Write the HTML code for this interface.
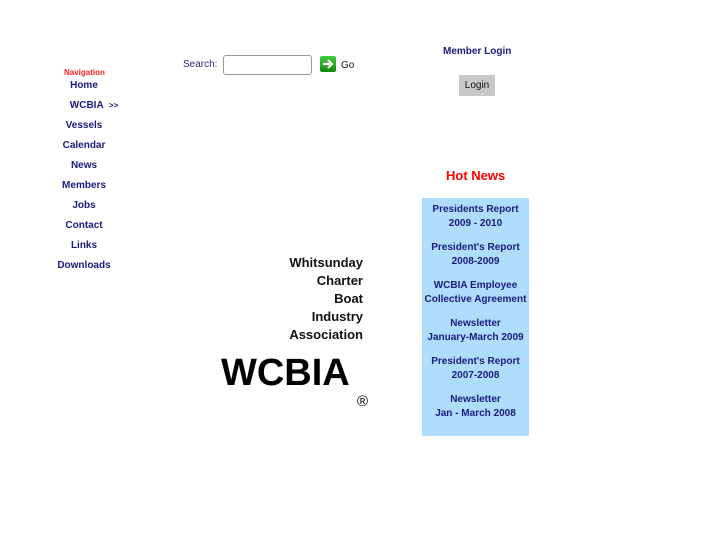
<!DOCTYPE html>
<html><head><meta charset="utf-8"><style>
body{margin:0;width:727px;height:545px;background:#fff;position:relative;overflow:hidden;font-family:"Liberation Sans",sans-serif}
.a{position:absolute;white-space:nowrap}
.nav{position:absolute;left:40px;width:88px;text-align:center;font-size:10px;font-weight:bold;color:#1a1a80}
.box{position:absolute;left:422px;top:198px;width:107px;height:238px;background:#aeddfd}
.box div{text-align:center;font-size:10px;font-weight:bold;color:#1a1a80;line-height:14px;height:38px}
.t{position:absolute;right:364px;font-size:13px;font-weight:bold;color:#111;text-align:right}
</style></head><body>
<div class="a" style="left:64px;top:68px;font-size:8px;font-weight:bold;color:#f22">Navigation</div>
<div class="nav" style="top:80px">Home</div>
<div class="nav" style="top:100px;left:50px">WCBIA &nbsp;<span style="font-size:8px">&gt;&gt;</span></div>
<div class="nav" style="top:120px">Vessels</div>
<div class="nav" style="top:140px">Calendar</div>
<div class="nav" style="top:160px">News</div>
<div class="nav" style="top:180px">Members</div>
<div class="nav" style="top:200px">Jobs</div>
<div class="nav" style="top:220px">Contact</div>
<div class="nav" style="top:240px">Links</div>
<div class="nav" style="top:260px">Downloads</div>

<div class="a" style="left:183px;top:59px;font-size:10px;color:#2a2a80">Search:</div>
<div class="a" style="left:223px;top:55px;width:87px;height:18px;border:1px solid #999;border-radius:3px;background:#fff"></div>
<div class="a" style="left:320px;top:56px;width:16px;height:16px;background:linear-gradient(#4c4,#181);border-radius:2px"><svg width="16" height="16"><path d="M3 8h8M8 4l4 4-4 4" stroke="#fff" stroke-width="2.2" fill="none"/></svg></div>
<div class="a" style="left:341px;top:60px;font-size:10px;color:#111">Go</div>

<div class="a" style="left:443px;top:46px;font-size:10px;font-weight:bold;color:#1a1a80">Member Login</div>
<div class="a" style="left:459px;top:75px;width:36px;height:21px;background:#c8c8c8;font-size:10px;text-align:center;line-height:21px;color:#111">Login</div>

<div class="a" style="left:446px;top:168px;font-size:13px;font-weight:bold;color:#f00">Hot News</div>
<div class="box"><div style="margin-top:5px">Presidents Report<br>2009 - 2010</div><div>President's Report<br>2008-2009</div><div>WCBIA Employee<br>Collective Agreement</div><div>Newsletter<br>January-March 2009</div><div>President's Report<br>2007-2008</div><div>Newsletter<br>Jan - March 2008</div></div>

<div class="t" style="top:255px">Whitsunday</div>
<div class="t" style="top:273px">Charter</div>
<div class="t" style="top:291px">Boat</div>
<div class="t" style="top:309px">Industry</div>
<div class="t" style="top:327px">Association</div>
<div class="a" style="left:221px;top:352px;font-size:38px;font-weight:bold;color:#000">WCBIA</div>
<div class="a" style="left:357px;top:393px;font-size:15px;color:#000">®</div>
</body></html>
